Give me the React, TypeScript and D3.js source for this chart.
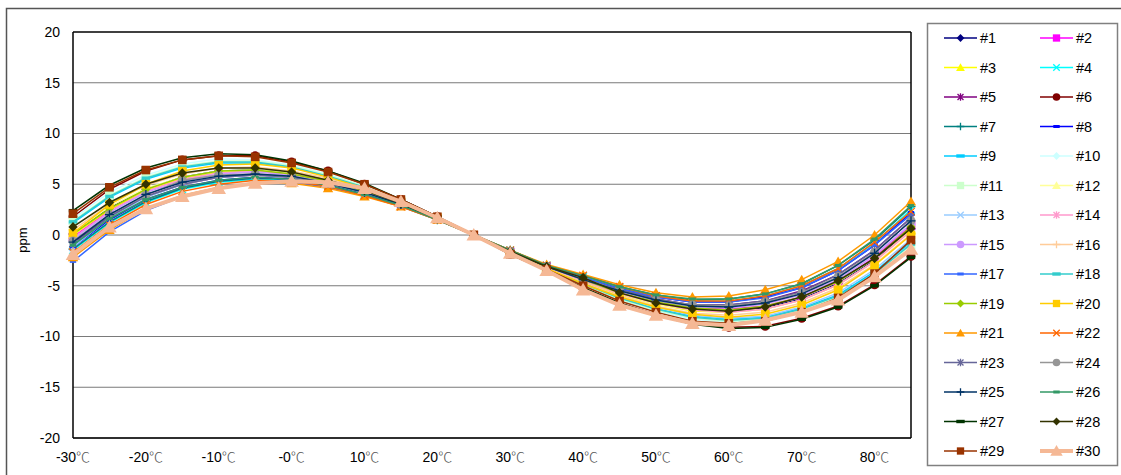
import React from 'react';
import * as d3 from 'd3';

const temps = [-30, -25, -20, -15, -10, -5, 0, 5, 10, 15, 20, 25, 30, 35, 40, 45, 50, 55, 60, 65, 70, 75, 80, 85];
const xTickTemps = [-30, -20, -10, 0, 10, 20, 30, 40, 50, 60, 70, 80];
const xTickLabels = ['-30', '-20', '-10', '-0', '10', '20', '30', '40', '50', '60', '70', '80'];
const yTicks = [-20, -15, -10, -5, 0, 5, 10, 15, 20];

const seriesNames = ['#1', '#2', '#3', '#4', '#5', '#6', '#7', '#8', '#9', '#10', '#11', '#12', '#13', '#14', '#15',
  '#16', '#17', '#18', '#19', '#20', '#21', '#22', '#23', '#24', '#25', '#26', '#27', '#28', '#29', '#30'];

const seriesColors = ['#000080', '#ff00ff', '#ffff00', '#00ffff', '#800080', '#800000', '#008080', '#0000ff', '#00ccff', '#ccffff',
  '#ccffcc', '#ffff99', '#99ccff', '#ff99cc', '#cc99ff', '#ffcc99', '#3366ff', '#33cccc', '#99cc00', '#ffcc00',
  '#ff9900', '#ff6600', '#666699', '#969696', '#003366', '#339966', '#003300', '#333300', '#993300', '#f5b895'];

const markerTypes = ['diamond', 'square', 'triangle', 'x', 'star', 'circle', 'plus', 'dash', 'longdash'];

const s1 = [0.1, 2.7, 4.5, 5.7, 6.3, 6.4, 6.1, 5.4, 4.4, 3.2, 1.6, 0, -1.7, -3.2, -4.5, -5.8, -6.7, -7.4, -7.5, -7.2, -6.3, -4.8, -2.5, 0.6];
const s2 = [-0.2, 2.4, 4.4, 5.5, 6.2, 6.3, 6.0, 5.3, 4.3, 3.1, 1.6, 0, -1.7, -3.1, -4.4, -5.7, -6.6, -7.2, -7.3, -7.0, -6.1, -4.6, -2.2, 0.9];
const s3 = [0.0, 2.5, 4.4, 5.6, 6.2, 6.4, 6.1, 5.4, 4.4, 3.2, 1.6, 0, -1.7, -3.2, -4.6, -5.9, -6.8, -7.5, -7.6, -7.3, -6.4, -4.9, -2.6, 0.5];
const s4 = [-1.5, 1.2, 3.2, 4.5, 5.2, 5.5, 5.4, 4.9, 4.0, 2.9, 1.5, 0, -1.5, -3.0, -4.1, -5.2, -6.0, -6.5, -6.5, -6.0, -5.0, -3.3, -0.8, 2.5];
const s5 = [-0.8, 1.8, 3.8, 5.0, 5.7, 5.9, 5.7, 5.1, 4.2, 3.0, 1.6, 0, -1.6, -3.1, -4.3, -5.4, -6.3, -6.9, -6.9, -6.5, -5.5, -3.9, -1.5, 1.7];
const s6 = [1.8, 4.5, 6.3, 7.4, 7.8, 7.8, 7.2, 6.3, 5.0, 3.5, 1.8, 0, -1.9, -3.5, -5.2, -6.7, -7.8, -8.7, -9.1, -9.0, -8.2, -7.0, -4.9, -2.1];
const s7 = [-1.4, 1.3, 3.3, 4.6, 5.3, 5.6, 5.5, 4.9, 4.0, 2.9, 1.5, 0, -1.5, -3.0, -4.0, -5.1, -5.9, -6.4, -6.3, -5.8, -4.8, -3.0, -0.5, 2.8];
const s8 = [-1.2, 1.5, 3.5, 4.7, 5.4, 5.7, 5.5, 4.9, 4.0, 2.9, 1.6, 0, -1.6, -3.0, -4.2, -5.3, -6.1, -6.6, -6.6, -6.1, -5.2, -3.5, -1.0, 2.2];
const s9 = [1.2, 3.7, 5.5, 6.6, 7.1, 7.1, 6.7, 5.8, 4.7, 3.3, 1.7, 0, -1.8, -3.3, -4.8, -6.2, -7.3, -8.0, -8.3, -8.1, -7.2, -5.9, -3.6, -0.7];
const s10 = [1.6, 4.2, 5.9, 7.0, 7.5, 7.4, 6.9, 6.0, 4.8, 3.4, 1.7, 0, -1.8, -3.4, -5.0, -6.4, -7.5, -8.3, -8.6, -8.4, -7.6, -6.3, -4.1, -1.3];
const s11 = [1.4, 3.9, 5.7, 6.8, 7.3, 7.3, 6.8, 5.9, 4.8, 3.4, 1.7, 0, -1.8, -3.4, -4.9, -6.3, -7.4, -8.2, -8.5, -8.3, -7.4, -6.1, -3.9, -1.0];
const s12 = [0.2, 2.8, 4.6, 5.7, 6.3, 6.4, 6.1, 5.4, 4.4, 3.2, 1.6, 0, -1.7, -3.2, -4.5, -5.8, -6.8, -7.4, -7.6, -7.3, -6.4, -4.9, -2.6, 0.4];
const s13 = [-1.2, 1.7, 3.7, 5.0, 5.7, 5.9, 5.7, 5.1, 4.2, 3.0, 1.6, 0, -1.7, -3.3, -4.7, -6.1, -7.1, -7.9, -8.2, -8.0, -7.1, -5.7, -3.4, -0.4];
const s14 = [-0.3, 2.3, 4.3, 5.5, 6.1, 6.3, 6.0, 5.3, 4.3, 3.1, 1.6, 0, -1.7, -3.2, -4.5, -5.8, -6.7, -7.4, -7.6, -7.3, -6.4, -4.9, -2.6, 0.4];
const s15 = [-0.4, 2.2, 4.2, 5.3, 6.0, 6.2, 5.9, 5.2, 4.3, 3.1, 1.6, 0, -1.7, -3.1, -4.4, -5.6, -6.5, -7.1, -7.2, -6.8, -5.9, -4.4, -2.0, 1.1];
const s16 = [0.5, 3.0, 4.9, 6.0, 6.6, 6.7, 6.3, 5.6, 4.5, 3.2, 1.7, 0, -1.7, -3.3, -4.7, -6.0, -7.0, -7.7, -7.9, -7.6, -6.7, -5.2, -2.9, 0.1];
const s17 = [-2.6, 0.3, 2.4, 3.8, 4.6, 5.1, 5.2, 4.7, 3.9, 2.8, 1.5, 0, -1.6, -3.0, -4.2, -5.3, -6.1, -6.6, -6.6, -6.2, -5.2, -3.5, -1.0, 2.0];
const s18 = [1.3, 3.8, 5.6, 6.7, 7.2, 7.2, 6.7, 5.8, 4.7, 3.3, 1.7, 0, -1.8, -3.4, -4.8, -6.2, -7.3, -8.1, -8.4, -8.2, -7.3, -6.0, -3.8, -0.9];
const s19 = [0.1, 2.6, 4.5, 5.7, 6.3, 6.4, 6.0, 5.3, 4.3, 3.1, 1.6, 0, -1.7, -3.1, -4.4, -5.7, -6.6, -7.2, -7.4, -7.0, -6.1, -4.6, -2.3, 0.8];
const s20 = [0.2, 3.0, 5.0, 6.3, 6.9, 7.0, 6.6, 5.7, 4.6, 3.3, 1.7, 0, -1.8, -3.3, -4.8, -6.1, -7.1, -7.8, -8.1, -7.8, -6.9, -5.4, -3.0, 0.0];
const s21 = [-2.2, 0.5, 2.6, 3.9, 4.7, 5.1, 5.1, 4.6, 3.8, 2.8, 1.5, 0, -1.5, -2.9, -3.9, -4.9, -5.7, -6.1, -6.0, -5.4, -4.4, -2.6, 0.0, 3.3];
const s22 = [-1.7, 1.0, 3.0, 4.3, 5.0, 5.4, 5.3, 4.8, 3.9, 2.8, 1.5, 0, -1.5, -3.0, -4.0, -5.1, -6.0, -6.5, -6.5, -6.0, -5.0, -3.3, -0.7, 2.3];
const s23 = [-0.9, 1.8, 3.8, 5.0, 5.7, 5.9, 5.7, 5.1, 4.2, 3.0, 1.6, 0, -1.6, -3.1, -4.3, -5.4, -6.3, -6.9, -6.9, -6.5, -5.6, -3.9, -1.5, 1.7];
const s24 = [-0.6, 2.0, 3.9, 5.4, 5.9, 6.0, 5.8, 5.1, 4.2, 3.0, 1.6, 0, -1.6, -3.1, -4.3, -5.5, -6.4, -6.9, -7.0, -6.6, -5.7, -4.1, -1.7, 1.4];
const s25 = [-0.7, 2.0, 4.0, 5.2, 5.8, 6.0, 5.8, 5.1, 4.2, 3.0, 1.6, 0, -1.6, -3.1, -4.4, -5.5, -6.4, -7.0, -7.1, -6.7, -5.8, -4.2, -1.8, 1.4];
const s26 = [-1.0, 1.6, 3.5, 4.7, 5.4, 5.7, 5.5, 4.9, 4.0, 2.9, 1.5, 0, -1.5, -3.0, -4.0, -5.1, -5.9, -6.3, -6.3, -5.8, -4.8, -3.0, -0.4, 2.9];
const s27 = [2.4, 4.9, 6.6, 7.6, 8.0, 7.9, 7.3, 6.3, 5.1, 3.5, 1.8, 0, -1.9, -3.5, -5.2, -6.7, -7.9, -8.8, -9.2, -9.1, -8.3, -7.1, -5.0, -2.2];
const s28 = [0.8, 3.2, 5.0, 6.1, 6.6, 6.6, 6.2, 5.4, 4.4, 3.1, 1.6, 0, -1.6, -3.1, -4.2, -5.7, -6.7, -7.3, -7.5, -7.1, -6.1, -4.5, -2.3, 0.65];
const s29 = [2.1, 4.7, 6.4, 7.4, 7.8, 7.7, 7.1, 6.2, 5.0, 3.5, 1.8, 0, -1.9, -3.4, -5.0, -6.5, -7.6, -8.5, -8.7, -8.5, -7.6, -6.2, -3.8, -0.5];
const s30 = [-1.9, 0.8, 2.6, 3.8, 4.6, 5.1, 5.3, 5.2, 4.6, 3.3, 1.7, 0, -1.8, -3.5, -5.4, -6.9, -7.9, -8.7, -8.9, -8.4, -7.6, -6.4, -4.1, -1.4];

const seriesValues = [s1, s2, s3, s4, s5, s6, s7, s8, s9, s10, s11, s12, s13, s14, s15,
  s16, s17, s18, s19, s20, s21, s22, s23, s24, s25, s26, s27, s28, s29, s30];

const FONT = '"Liberation Sans", Arial, sans-serif';

// marker glyph; legend uses the smaller version
function Marker({ type, color, big, s = 1 }: { type: string; color: string; big?: boolean; s?: number }) {
  const k = (big ? 1.4 : 1) * s;
  switch (type) {
    case 'diamond':
      return <path d={`M0,${-4.8 * k}L${4.6 * k},0L0,${4.8 * k}L${-4.6 * k},0Z`} fill={color} />;
    case 'square':
      return <rect x={-4.3 * k} y={-4.3 * k} width={8.6 * k} height={8.6 * k} fill={color} />;
    case 'triangle':
      return <path d={`M0,${-5 * k}L${5.2 * k},${4 * k}L${-5.2 * k},${4 * k}Z`} fill={color} />;
    case 'x':
      return <path d={`M${-3.8 * s},${-3.8 * s}L${3.8 * s},${3.8 * s}M${-3.8 * s},${3.8 * s}L${3.8 * s},${-3.8 * s}`} stroke={color} strokeWidth={1.3} />;
    case 'star':
      return <path d={`M${-3.5 * s},${-3.5 * s}L${3.5 * s},${3.5 * s}M${-3.5 * s},${3.5 * s}L${3.5 * s},${-3.5 * s}M0,${-4.3 * s}L0,${4.3 * s}`} stroke={color} strokeWidth={1.3} />;
    case 'circle':
      return <circle r={4.5 * k} fill={color} />;
    case 'plus':
      return <path d={`M0,${-4.5 * s}L0,${4.5 * s}M${-4.5 * s},0L${4.5 * s},0`} stroke={color} strokeWidth={1.3} />;
    case 'dash':
      return <rect x={-3.2} y={-1.5} width={6.4} height={3} fill={color} />;
    default:
      return <rect x={-4.2} y={-1.7} width={8.4} height={3.4} fill={color} />;
  }
}

export default function App() {
  const W = 1121, H = 475;
  const x = d3.scaleLinear().domain([-30, 85]).range([73, 911]);
  const y = d3.scaleLinear().domain([-20, 20]).range([438, 32]);
  const line = d3.line<number>().x((_, i) => x(temps[i])).y(d => y(d));

  const legendTop = 38, legendStep = 29.5;

  return (
    <div style={{ position: 'absolute', left: 0, top: 0 }}>
      <svg width={W} height={H} style={{ display: 'block', fontFamily: FONT }}>
        <rect x={0} y={0} width={W} height={H} fill="#fff" />
        <rect x={6.5} y={8.5} width={1130} height={480} fill="none" stroke="#555" strokeWidth={1.5} />

        {yTicks.map(t => (
          <g key={t}>
            <line x1={x(-30)} x2={x(85)} y1={y(t)} y2={y(t)} stroke={t === 20 ? '#000' : '#7a7a7a'} strokeWidth={t === 20 ? 1.5 : 1.2} />
            <text x={60} y={y(t)} dy="0.35em" textAnchor="end" fontSize={14}>{t}</text>
          </g>
        ))}
        <line x1={x(-30)} x2={x(-30)} y1={y(20)} y2={y(-20)} stroke="#000" strokeWidth={1.5} />
        <line x1={x(85)} x2={x(85)} y1={y(20)} y2={y(-20)} stroke="#000" strokeWidth={1.5} />
        <line x1={x(-30)} x2={x(85)} y1={y(-20)} y2={y(-20)} stroke="#000" strokeWidth={1.5} />

        {xTickTemps.map((t, i) => (
          <text key={t} x={x(t)} y={457} dy="0.35em" textAnchor="middle" fontSize={14}>
            {xTickLabels[i]}
            <tspan fill="#555" fontFamily='"Noto Sans CJK SC", "DejaVu Sans", sans-serif' fontWeight={300}>℃</tspan>
          </text>
        ))}

        <text transform={`translate(27,${y(0) + 5}) rotate(-90)`} textAnchor="middle" fontSize={13}>ppm</text>

        {seriesValues.map((vals, si) => {
          const color = seriesColors[si];
          const big = si === 29;
          return (
            <g key={si}>
              <path d={line(vals) || ''} fill="none" stroke={color} strokeWidth={big ? 4 : 1.5} />
              {vals.map((v, i) => (
                <g key={i} transform={`translate(${x(temps[i])},${y(v)})`}>
                  <Marker type={markerTypes[si % 9]} color={color} big={big} />
                </g>
              ))}
            </g>
          );
        })}

        <rect x={927.5} y={23.5} width={190} height={442} fill="#fff" stroke="#808080" strokeWidth={1.5} />
        {seriesNames.map((name, si) => {
          const col = si % 2, row = Math.floor(si / 2);
          const cy = legendTop + row * legendStep;
          const x0 = col === 0 ? 944 : 1040;
          const color = seriesColors[si];
          const big = si === 29;
          return (
            <g key={name}>
              <line x1={x0} x2={x0 + 33} y1={cy} y2={cy} stroke={color} strokeWidth={big ? 4 : 1.5} />
              <g transform={`translate(${x0 + 16.5},${cy})`}>
                <Marker type={markerTypes[si % 9]} color={color} big={big} s={0.85} />
              </g>
              <text x={x0 + 36} y={cy} dy="0.35em" fontSize={14.5}>{name}</text>
            </g>
          );
        })}
      </svg>
    </div>
  );
}
